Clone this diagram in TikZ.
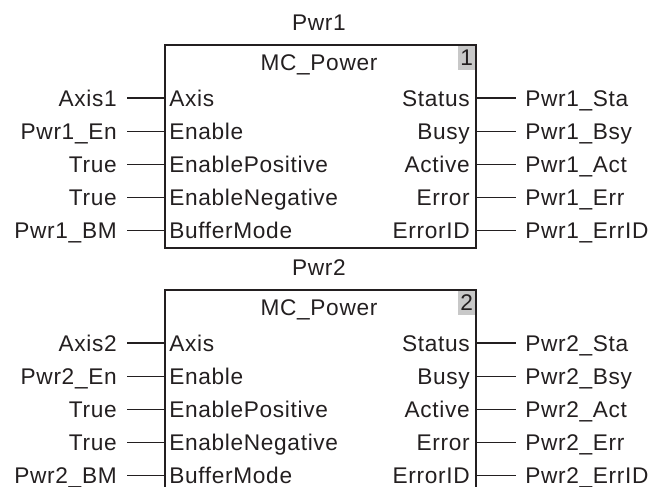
\documentclass[tikz,border=0pt]{standalone}
\usepackage{fontspec}
\setmainfont[LetterSpace=3]{Liberation Sans}
\definecolor{ink}{HTML}{231F20}
\definecolor{numgray}{HTML}{C8C8C8}
\begin{document}
\begin{tikzpicture}[x=0.75pt,y=-0.75pt,
  every node/.style={font=\fontsize{17pt}{20pt}\selectfont, text=ink, inner sep=0pt, text height=12pt, text depth=0pt},
  fbbox/.style={draw=ink, line width=0.9pt, fill=none},
  numbox/.style={fill=numgray, minimum width=13pt, minimum height=18pt, anchor=north east},
  wire/.style={draw=ink, line width=0.8pt}]
\useasboundingbox (0,0) rectangle (650,486);
\clip (0,0) rectangle (650,486);
\foreach \k/\dy in {1/0, 2/245} {
  \begin{scope}[shift={(0,\dy)}]
    \node (title\k) at (319,22) {Pwr\k};
    \draw[fbbox] (165,45) rectangle (476,248);
    \node[numbox] (num\k) at (475.5,45.5) {\k};
    \node (fb\k) at (319,62) {MC\_Power};
    \foreach \i/\lin/\lout/\rin/\rout in {
      1/Axis/Axis\k/Status/Pwr\k\_Sta,
      2/Enable/Pwr\k\_En/Busy/Pwr\k\_Bsy,
      3/EnablePositive/True/Active/Pwr\k\_Act,
      4/EnableNegative/True/Error/Pwr\k\_Err,
      5/BufferMode/Pwr\k\_BM/ErrorID/Pwr\k\_ErrID} {
      \pgfmathsetmacro{\yy}{98+(\i-1)*33.2}
      \node[anchor=west] (li\k\i) at (169,\yy) {\lin};
      \node[anchor=east] (ri\k\i) at (470,\yy) {\rin};
      \node[anchor=east] (lo\k\i) at (117,\yy) {\lout};
      \node[anchor=west] (ro\k\i) at (525,\yy) {\rout};
      \coordinate (lp\k\i) at (165,\yy);
      \coordinate (rp\k\i) at (476,\yy);
      \draw[wire] ([xshift=7.5pt]lo\k\i.east) -- (lp\k\i);
      \draw[wire] (rp\k\i) -- ([xshift=-7pt]ro\k\i.west);
    }
  \end{scope}
}
\end{tikzpicture}
\end{document}
